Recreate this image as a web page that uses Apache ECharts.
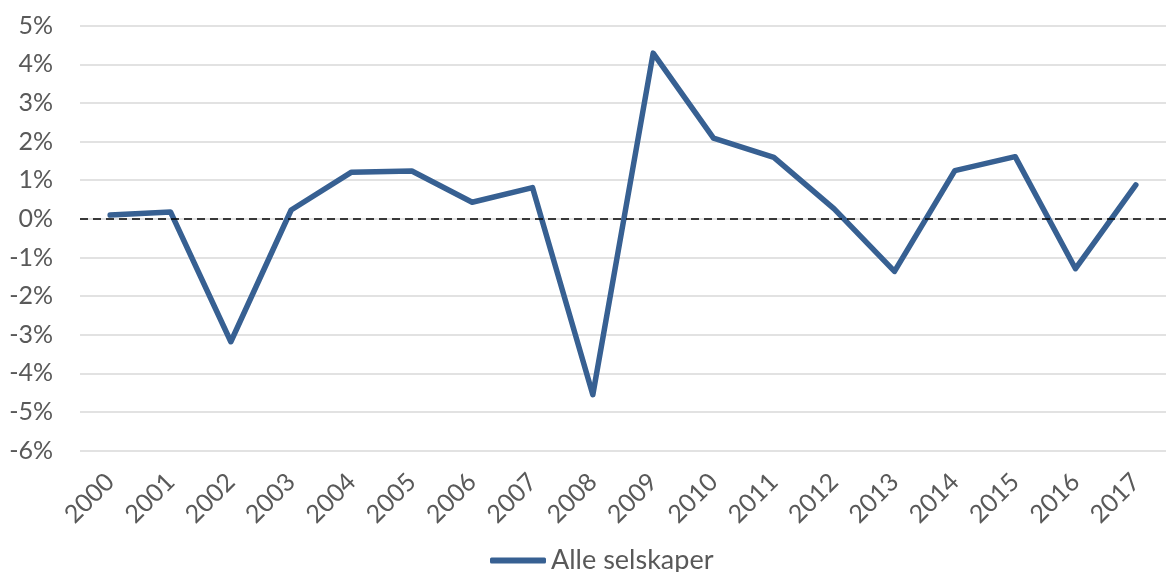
<!DOCTYPE html>
<html>
<head>
<meta charset="utf-8">
<script src="https://cdn.jsdelivr.net/npm/echarts@6/dist/echarts.min.js"></script>
<style>
html,body{margin:0;padding:0;background:#fff;}
#c{width:1166px;height:572px;}
</style>
</head>
<body>
<div id="c"></div>
<script>
const categories = ['2000','2001','2002','2003','2004','2005','2006','2007','2008','2009','2010','2011','2012','2013','2014','2015','2016','2017'];
const alleSelskaper = [0.10, 0.18, -3.18, 0.23, 1.21, 1.24, 0.43, 0.81, -4.55, 4.29, 2.09, 1.59, 0.26, -1.36, 1.25, 1.61, -1.29, 0.88];
const seriesName = 'Alle selskaper';

const chart = echarts.init(document.getElementById('c'), null, {renderer: 'canvas'});
const font = 'Lato, "Open Sans", sans-serif';
chart.setOption({
  animation: false,
  backgroundColor: '#ffffff',
  grid: {left: 80, right: 0, top: 25.7, bottom: 121.3, containLabel: false},
  legend: {
    data: [{name: seriesName, icon: 'roundRect'}],
    left: 490, top: 547, padding: 0,
    itemWidth: 56, itemHeight: 6, itemGap: 4,
    textStyle: {fontFamily: font, fontSize: 27, color: '#595959'}
  },
  xAxis: {
    type: 'category',
    data: categories,
    boundaryGap: true,
    axisLine: {show: false, onZero: false},
    axisTick: {show: false},
    splitLine: {show: false},
    axisLabel: {rotate: 45, margin: 27, fontFamily: font, fontSize: 25, color: '#595959', interval: 0}
  },
  yAxis: {
    type: 'value',
    min: -6, max: 5, interval: 1,
    axisLine: {show: false},
    axisTick: {show: false},
    splitLine: {lineStyle: {color: '#d9d9d9', width: 1.5}},
    axisLabel: {formatter: '{value}%', margin: 27, fontFamily: font, fontSize: 25, color: '#595959'}
  },
  series: [{
    name: seriesName,
    type: 'line',
    data: alleSelskaper,
    symbol: 'none',
    lineStyle: {width: 5.5, color: '#376092', cap: 'round', join: 'round'},
    itemStyle: {color: '#376092'},
    markLine: {
      silent: true,
      symbol: 'none',
      label: {show: false},
      lineStyle: {type: [8, 5], color: '#000000', width: 1.5},
      data: [{yAxis: 0}]
    },
    z: 3
  }]
});
</script>
</body>
</html>
